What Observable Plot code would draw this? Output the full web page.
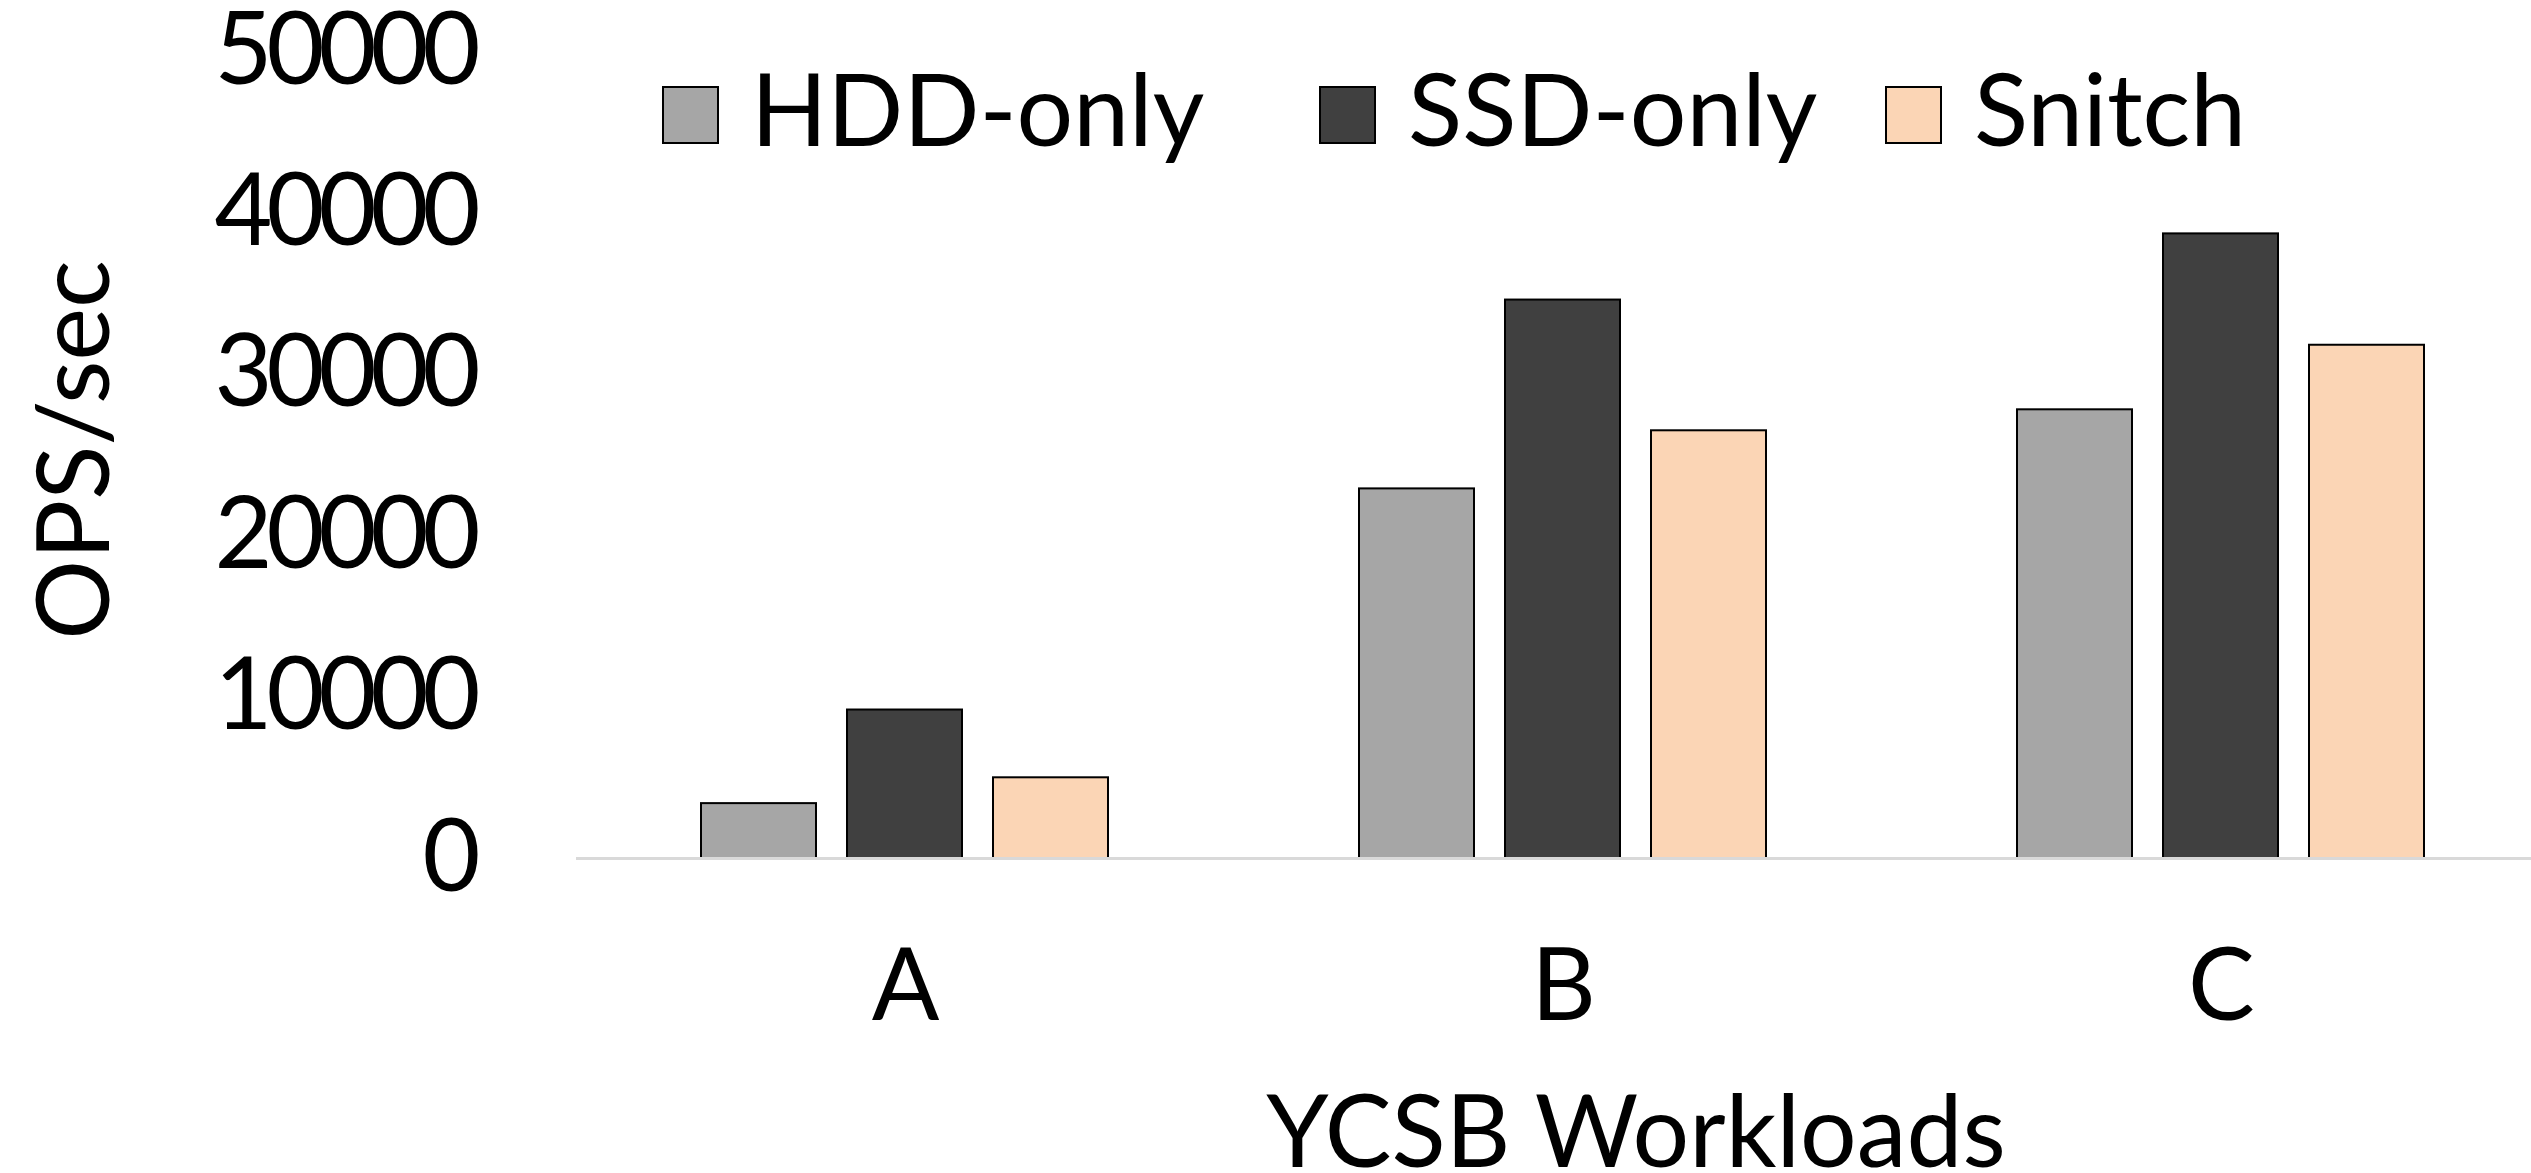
<!DOCTYPE html>
<html>
<head>
<meta charset="utf-8">
<script src="https://cdn.jsdelivr.net/npm/d3@7"></script>
<script src="https://cdn.jsdelivr.net/npm/@observablehq/plot@0.6"></script>
<style>
  html, body { margin: 0; padding: 0; background: #fff; }
  body { width: 2531px; height: 1173px; overflow: hidden; position: relative; font-family: Lato, sans-serif; color: #000; }
  #chart { position: absolute; left: 0; top: 0; }
  #chart g[aria-label="y-axis tick label"] text { letter-spacing: -6px; }
  .lg-item { position: absolute; top: 57px; display: flex; align-items: flex-start; font-size: 100px; line-height: 1; white-space: nowrap; }
  .lg-sw { width: 53px; height: 54px; border: 2px solid #000; margin-top: 29px; margin-right: 32px; box-sizing: content-box; }
  .ytitle { position: absolute; left: 70px; top: 450px; font-size: 100px; line-height: 1; white-space: nowrap; transform: translate(-50%, -50%) rotate(-90deg); }
  .xtitle { position: absolute; left: 1636px; top: 1084px; font-size: 100px; line-height: 88px; white-space: nowrap; transform: translateX(-50%); }
</style>
</head>
<body>
<div id="chart"></div>
<script>
// ---- data ----
const workloads = ["A", "B", "C"];
const series = ["HDD-only", "SSD-only", "Snitch"];
const hddOnly = [3400, 22900, 27800];
const ssdOnly = [9200, 34600, 38700];
const snitch = [5000, 26500, 31800];
const seriesColors = ["#a6a6a6", "#404040", "#fbd5b5"];
const yTicks = [0, 10000, 20000, 30000, 40000, 50000];
const yTitle = "OPS/sec";
const xTitle = "YCSB Workloads";
const legendLeft = [662, 1319, 1885];

const values = [hddOnly, ssdOnly, snitch];
const data = [];
workloads.forEach((w, i) => {
  series.forEach((s, j) => data.push({ workload: w, series: s, value: values[j][i] }));
});

const plot = Plot.plot({
  width: 2531,
  height: 1173,
  marginTop: 51,
  marginBottom: 315,
  marginLeft: 575,
  marginRight: -19,
  style: { fontFamily: "Lato, sans-serif", fontSize: "100px", color: "#000", background: "transparent", overflow: "visible" },
  fx: { domain: workloads, padding: 0, label: null, tickSize: 0, tickPadding: 90 },
  x: { domain: series, paddingInner: 0.21, paddingOuter: 0.846, axis: null },
  y: { domain: [0, 50000], ticks: yTicks, tickFormat: d3.format("d"), tickSize: 0, tickPadding: 102, label: null },
  color: { domain: series, range: seriesColors },
  marks: [
    Plot.barY(data, { fx: "workload", x: "series", y: "value", fill: "series", stroke: "#000", strokeWidth: 2 }),
    Plot.ruleY([0], { stroke: "#d9d9d9", strokeWidth: 3 })
  ]
});
document.getElementById("chart").appendChild(plot);

// legend
series.forEach((s, j) => {
  const item = document.createElement("div");
  item.className = "lg-item";
  item.style.left = legendLeft[j] + "px";
  const sw = document.createElement("div");
  sw.className = "lg-sw";
  sw.style.background = seriesColors[j];
  const tx = document.createElement("span");
  tx.textContent = s;
  item.appendChild(sw);
  item.appendChild(tx);
  document.body.appendChild(item);
});

// axis titles
const yt = document.createElement("div");
yt.className = "ytitle";
yt.textContent = yTitle;
document.body.appendChild(yt);
const xt = document.createElement("div");
xt.className = "xtitle";
xt.textContent = xTitle;
document.body.appendChild(xt);
</script>
</body>
</html>
